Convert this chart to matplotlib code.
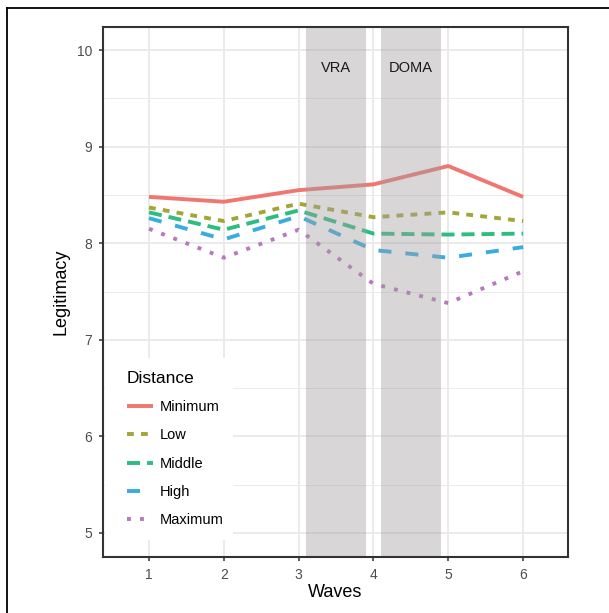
import matplotlib
matplotlib.use("Agg")
import matplotlib.pyplot as plt
from matplotlib.lines import Line2D
from matplotlib.patches import Rectangle

plt.rcParams['font.family'] = ['Liberation Sans', 'DejaVu Sans']

waves = [1, 2, 3, 4, 5, 6]
series_names = ["Minimum", "Low", "Middle", "High", "Maximum"]
minimum = [8.48, 8.43, 8.55, 8.61, 8.80, 8.48]
low = [8.37, 8.23, 8.41, 8.27, 8.32, 8.23]
middle = [8.32, 8.14, 8.34, 8.10, 8.09, 8.10]
high = [8.26, 8.04, 8.28, 7.93, 7.85, 7.96]
maximum = [8.15, 7.85, 8.14, 7.58, 7.38, 7.71]
values = [minimum, low, middle, high, maximum]

colors = ['#F07670', '#A3A537', '#2EBD80', '#39ACE0', '#B878BE']
linestyles = ['-', (0, (1.75, 1.85)), (0, (3.35, 1.8)), (0, (3.35, 3.6)), (0, (1.0, 2.35))]

events = ["VRA", "DOMA"]
event_start = [3.1, 4.1]
event_end = [3.9, 4.9]
event_label_y = 9.82

fig = plt.figure(figsize=(6.09, 6.13), dpi=100)
ax = fig.add_axes([103/609, 1-557/613, 465/609, 530/613])

ax.set_xlim(0.385, 6.6)
ax.set_ylim(4.75, 10.24)

ax.set_xticks(waves)
ax.set_yticks([5, 6, 7, 8, 9, 10])
ax.set_yticks([5.5, 6.5, 7.5, 8.5, 9.5], minor=True)
ax.set_axisbelow(True)
ax.grid(which='major', color='#ebebeb', linewidth=1.4)
ax.grid(which='minor', axis='y', color='#ebebeb', linewidth=0.7)
ax.tick_params(which='minor', length=0)
ax.tick_params(which='major', length=3.2, width=1.1, color='#333333',
               labelcolor='#4d4d4d', labelsize=10, pad=4.5)

for name, vals, c, ls in zip(series_names, values, colors, linestyles):
    ax.plot(waves, vals, color=c, linestyle=ls, linewidth=2.8,
            solid_capstyle='butt', dash_capstyle='butt', label=name, zorder=2)

for ev, s, e in zip(events, event_start, event_end):
    ax.axvspan(s, e, color='#A29EA0', alpha=0.42, linewidth=0, zorder=3)
    ax.text((s + e) / 2, event_label_y, ev, ha='center', va='center',
            fontsize=10.5, color='#1a1a1a', zorder=4)

for sp in ax.spines.values():
    sp.set_color('#333333')
    sp.set_linewidth(1.5)
    sp.set_zorder(7)

ax.set_xlabel("Waves", fontsize=13, color='black', labelpad=2)
ax.set_ylabel("Legitimacy", fontsize=13, color='black', labelpad=5)

# legend background box
ax.add_patch(Rectangle((0.004, 0.032), 0.276, 0.343, transform=ax.transAxes,
                       facecolor='white', edgecolor='none', zorder=5))

leg = ax.legend(loc='lower left', bbox_to_anchor=(0.0516, 0.056),
                borderaxespad=0, borderpad=0, frameon=False,
                title="Distance", title_fontsize=12.5, fontsize=10.5,
                handlelength=1.75, handletextpad=0.5, labelspacing=0.98)
leg._legend_box.align = "left"
leg.set_zorder(6)

# outer frame (top and left edges visible)
fig.add_artist(Line2D([7/609, 1.0], [1-8/613, 1-8/613], color='black', linewidth=1.3))
fig.add_artist(Line2D([7/609, 7/609], [0, 1-8/613], color='black', linewidth=1.3))

fig.savefig("out.png", dpi=100)
